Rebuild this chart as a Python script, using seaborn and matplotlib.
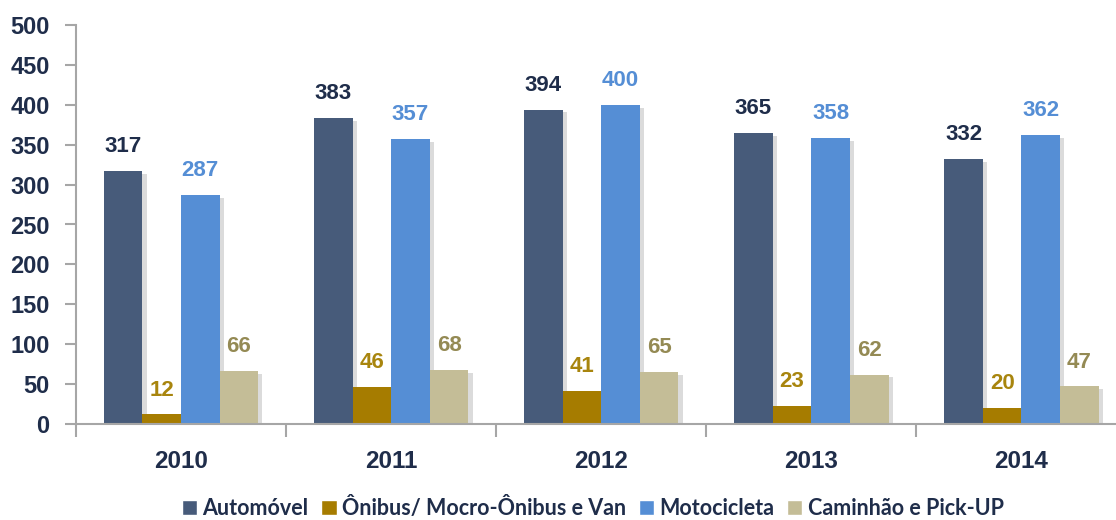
import matplotlib
matplotlib.use("Agg")
import matplotlib.pyplot as plt
import matplotlib.patheffects as pe
from matplotlib.ticker import FixedLocator
import seaborn as sns
import pandas as pd

years = ["2010", "2011", "2012", "2013", "2014"]
series = ["Automóvel", "Ônibus/ Mocro-Ônibus e Van", "Motocicleta", "Caminhão e Pick-UP"]
automovel = [317, 383, 394, 365, 332]
onibus = [12, 46, 41, 23, 20]
motocicleta = [287, 357, 400, 358, 362]
caminhao = [66, 68, 65, 62, 47]

bar_colors = ["#475B7A", "#A67C00", "#558ED5", "#C4BD97"]
label_colors = ["#1F2D4A", "#A8850E", "#558ED5", "#948A54"]
text_dark = "#1F2D4A"

rows = []
for s, vals in zip(series, [automovel, onibus, motocicleta, caminhao]):
    for y, v in zip(years, vals):
        rows.append({"Ano": y, "Tipo": s, "Valor": v})
df = pd.DataFrame(rows)

sns.set_theme(style="white")
plt.rcParams["font.family"] = ["Liberation Sans", "DejaVu Sans"]

fig = plt.figure(figsize=(11.16, 5.2), dpi=100)
ax = fig.add_axes([76 / 1116, 1 - 424 / 520, 1 - 76 / 1116, (424 - 25) / 520])

sns.barplot(data=df, x="Ano", y="Valor", hue="Tipo", hue_order=series, order=years,
            palette=bar_colors, saturation=1, width=0.735, dodge=True, ax=ax,
            legend=True, errorbar=None)

shadow = [pe.SimplePatchShadow(offset=(3, -2), shadow_rgbFace="#888888", alpha=0.3), pe.Normal()]
for cont, lc in zip(ax.containers, label_colors):
    for p in cont:
        p.set_path_effects(shadow)
        p.set_edgecolor("none")
    ax.bar_label(cont, padding=10, color=lc, fontsize=16, fontweight="bold")

ax.set_ylim(0, 500)
ax.set_xlim(-0.5, 4.45)
ax.set_yticks(range(0, 501, 50))
ax.set_xlabel("")
ax.set_ylabel("")

for side in ["top", "right"]:
    ax.spines[side].set_visible(False)
for side in ["left", "bottom"]:
    ax.spines[side].set_color("#A6A6A6")
    ax.spines[side].set_linewidth(1.5)

ax.tick_params(axis="y", which="major", left=True, length=8, width=1.5, color="#A6A6A6",
               labelsize=17, labelcolor=text_dark, pad=11)
ax.tick_params(axis="x", which="major", length=0, pad=19, labelsize=17.5, labelcolor=text_dark)
ax.xaxis.set_minor_locator(FixedLocator([-0.5, 0.5, 1.5, 2.5, 3.5]))
ax.tick_params(axis="x", which="minor", bottom=True, length=9, width=1.5, color="#A6A6A6")
for lbl in ax.get_yticklabels() + ax.get_xticklabels():
    lbl.set_fontweight("bold")

leg = ax.legend(loc="center", bbox_to_anchor=(0.5 - 0.003, -0.21), ncol=4, frameon=False,
                handlelength=0.7, handleheight=0.7, handletextpad=0.25, columnspacing=0.6,
                borderpad=0.2,
                prop={"family": ["Lato", "DejaVu Sans"], "size": 15.5, "weight": "bold"})
for t in leg.get_texts():
    t.set_color(text_dark)
for h in leg.legend_handles:
    h.set_path_effects([])

fig.savefig("out.png", dpi=100)
